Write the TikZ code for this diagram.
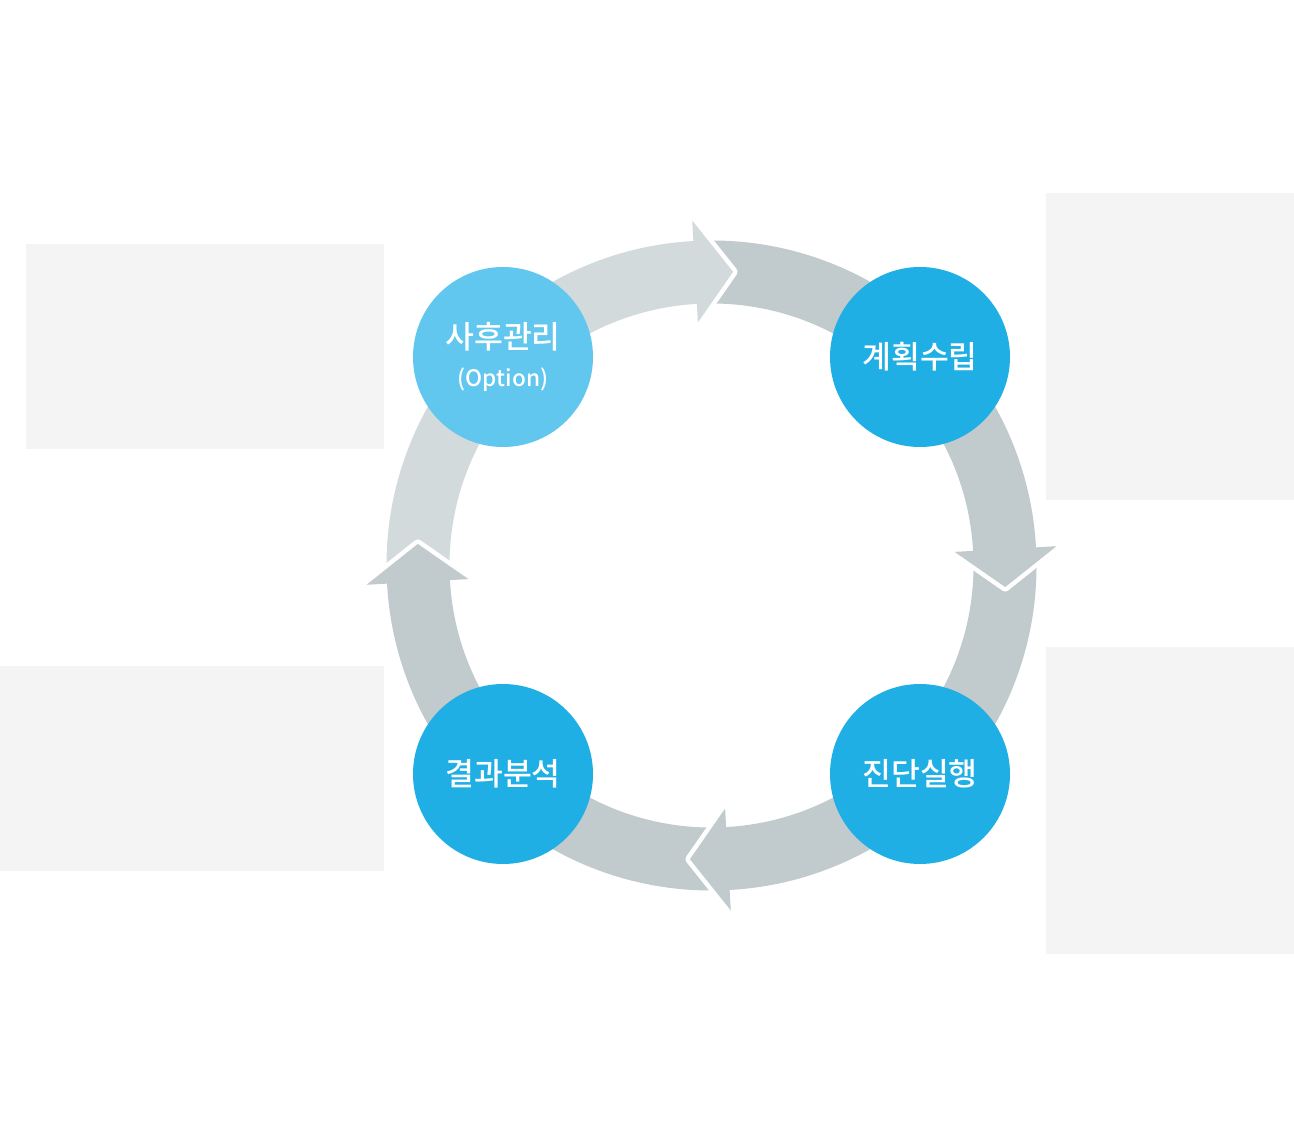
\documentclass[tikz,border=0pt]{standalone}
\usepackage{fontspec}
\newfontfamily\krfont{Noto Sans CJK KR}[BoldFont={Noto Sans CJK KR Medium}]
\usetikzlibrary{positioning,calc}

\definecolor{ringlight}{HTML}{D2DADC}
\definecolor{ringdark}{HTML}{C1CACC}
\definecolor{stageblue}{HTML}{20AFE5}
\definecolor{stagelight}{HTML}{62C7EF}
\definecolor{panelgray}{HTML}{F4F4F4}

\begin{document}
\begin{tikzpicture}[
  x = 0.75pt, y = 0.75pt,
  stage/.style  = {circle, minimum size=135pt, inner sep=0pt,
                   fill=stageblue, text=white, align=center,
                   font=\krfont\bfseries\fontsize{23.5}{28}\selectfont},
  poststage/.style = {stage, fill=stagelight},
  panel/.style  = {fill=panelgray},
  gap/.style    = {draw=white, line width=6.75pt, line join=round}
]
  \useasboundingbox (0,0) rectangle (1294,1132);

  % Side panels
  \fill[panel] (26,683)   rectangle (384,888);
  \fill[panel] (0,261)    rectangle (384,466);
  \fill[panel] (1046,632) rectangle (1294,939);
  \fill[panel] (1046,178) rectangle (1294,485);

  % Cycle ring: bodies first, then heads
  \coordinate (ctr) at (711.5,566.5);
  \begin{scope}[shift={(ctr)}]
    \foreach \c/\col in {90/ringlight, 0/ringdark, -90/ringdark, 180/ringdark}{
      \fill[\col] ({\c+92}:325) arc[start angle=\c+92, end angle=\c+2.5, radius=325]
        -- ({\c+2.5}:262) arc[start angle=\c+2.5, end angle=\c+92, radius=262] -- cycle;
    }
    \foreach \c/\col in {90/ringlight, 0/ringdark, -90/ringdark, 180/ringdark}{
      \draw[gap] ({\c+3.2}:345.5) -- ({\c-4.2}:294.5) -- ({\c+3.2}:243.5);
      \fill[\col] ({\c+3.2}:345.5) -- ({\c-4.2}:294.5) -- ({\c+3.2}:243.5) -- cycle;
    }
  \end{scope}

  % Stages
  \node[poststage] (post) at (503,775)
    {사후관리\\[1pt]{\fontsize{17}{20}\selectfont(Option)}};
  \node[stage] (plan) at (920,775) {계획수립};
  \node[stage] (exec) at (920,358) {진단실행};
  \node[stage] (anal) at (503,358) {결과분석};
\end{tikzpicture}
\end{document}
